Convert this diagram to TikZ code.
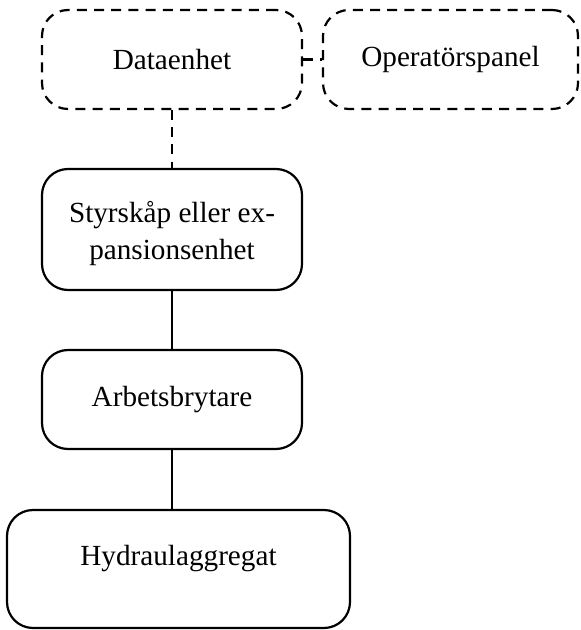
\documentclass[tikz,border=0pt]{standalone}
\usepackage{fontspec}
\setmainfont{Liberation Serif}

\begin{document}
\begin{tikzpicture}[x=0.5pt,y=-0.5pt,line width=1.1pt]
\tikzstyle{unit}=[rectangle,draw,rounded corners=13pt,align=center,font=\fontsize{14.6}{18.5}\selectfont,inner sep=0pt]
\tikzstyle{optional}=[unit,dash pattern=on 5pt off 3.6pt]
\tikzstyle{link}=[dash pattern=on 5pt off 3.6pt]
\useasboundingbox (0,0) rectangle (580,630);

\node[optional,minimum width=130pt,minimum height=49.5pt](data) at (172,59.5) {Dataenhet};
\node[optional,minimum width=127.5pt,minimum height=49.5pt](panel) at (450.5,59.5) {Operatörspanel};
\node[unit,minimum width=130pt,minimum height=60.5pt,text height=33.5pt,text depth=3.5pt](skap) at (172,229.5) {Styrskåp eller ex-\\pansionsenhet};
\node[unit,minimum width=130pt,minimum height=49.5pt](brytare) at (172,399.5) {Arbetsbrytare};
\node[unit,minimum width=171.5pt,minimum height=59pt,text depth=14pt](hydr) at (178.5,569) {Hydraulaggregat};

\draw[link] (data) -- (panel);
\draw[link] (data) -- (skap);
\draw (skap) -- (brytare);
\draw (brytare.south) -- (brytare.south |- hydr.north);
\end{tikzpicture}
\end{document}
